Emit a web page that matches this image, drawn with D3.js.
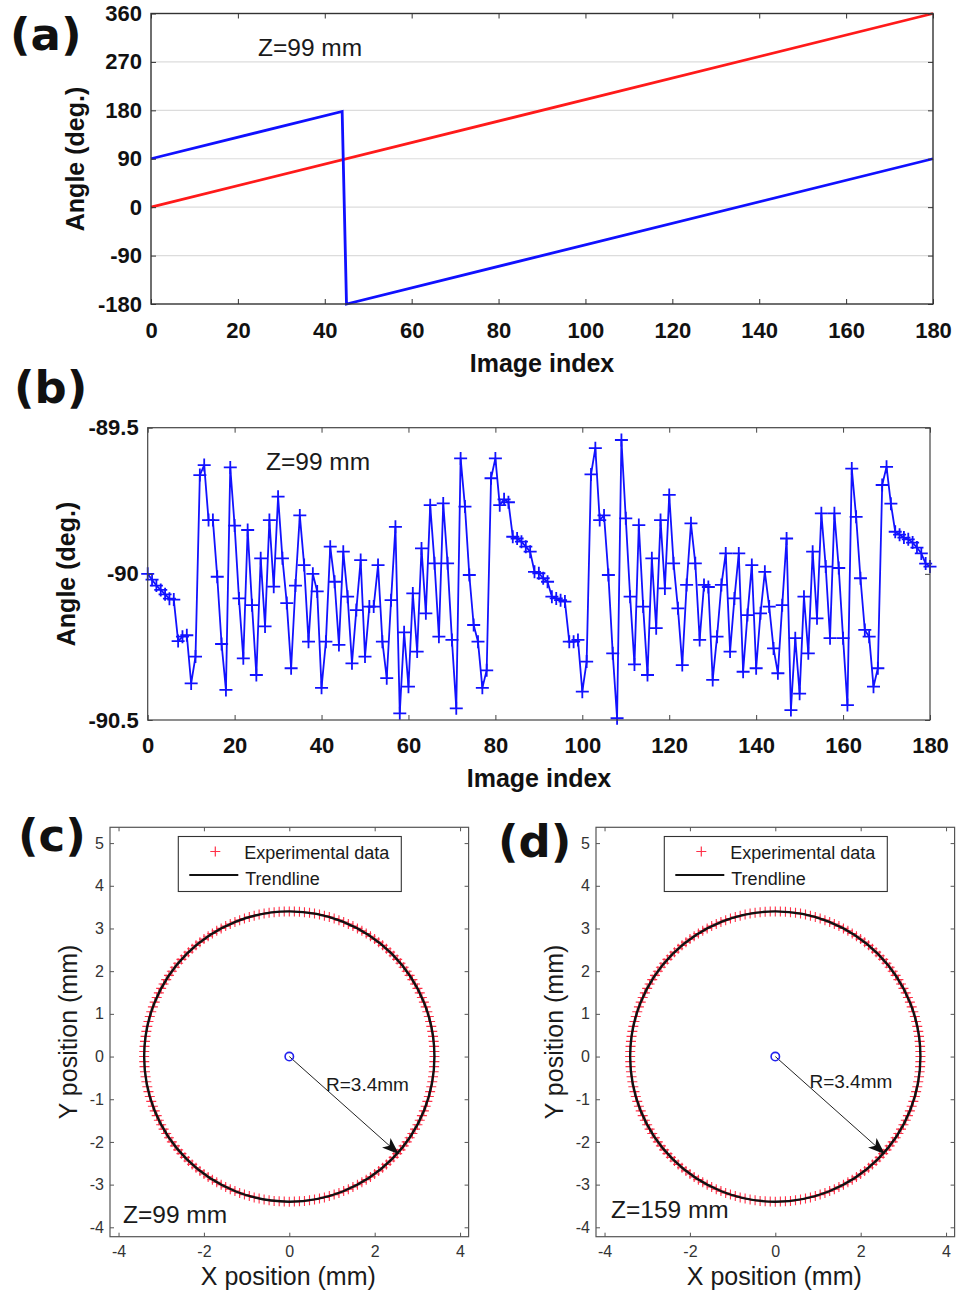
<!DOCTYPE html>
<html>
<head>
<meta charset="utf-8">
<script src="https://cdn.jsdelivr.net/npm/d3@7"></script>
<style>
  body { margin: 0; background: #fff; }
  svg { display: block; }
</style>
</head>
<body>
<svg id="fig" width="956" height="1293"></svg>
<script>
// ---------- data ----------
// (a) rotation angle vs. measured angle, as polyline vertices (image index, degrees)
const rotationAngle = [[0, 0], [180, 360]];
const measuredAngle = [[0, 90], [44, 178], [45, -180], [180, 90]];
const angleTicksA = [-180, -90, 0, 90, 180, 270, 360];
const indexTicks = [0, 20, 40, 60, 80, 100, 120, 140, 160, 180];

// (b) axis angle for each image index 0..180
const axisAngle = [
  -90.000, -90.020, -90.040, -90.055, -90.070, -90.085, -90.088, -90.230, -90.215, -90.210,
  -90.375, -90.283, -89.662, -89.628, -89.816, -89.816, -90.010, -90.240, -90.397, -89.636,
  -89.835, -90.084, -90.289, -89.850, -90.107, -90.346, -89.947, -90.180, -89.816, -90.044,
  -89.736, -89.947, -90.100, -90.323, -90.040, -89.800, -89.970, -90.232, -90.000, -90.060,
  -90.390, -90.232, -89.907, -90.027, -90.243, -89.924, -90.078, -90.306, -90.124, -89.953,
  -90.283, -90.112, -90.112, -89.970, -90.232, -90.357, -90.090, -89.839, -90.477, -90.200,
  -90.386, -90.067, -90.266, -89.913, -90.135, -89.765, -89.964, -90.215, -89.759, -89.964,
  -90.226, -90.460, -89.605, -89.770, -90.004, -90.175, -90.232, -90.390, -90.330, -89.673,
  -89.605, -89.765, -89.745, -89.755, -89.873, -89.879, -89.890, -89.907, -89.924, -89.993,
  -89.998, -90.015, -90.027, -90.078, -90.084, -90.090, -90.095, -90.232, -90.232, -90.226,
  -90.403, -90.300, -89.660, -89.570, -89.816, -89.800, -90.004, -90.272, -90.494, -89.542,
  -89.810, -90.078, -90.310, -89.833, -90.112, -90.346, -89.947, -90.186, -89.816, -90.050,
  -89.730, -89.964, -90.118, -90.312, -90.038, -89.827, -89.964, -90.226, -90.038, -90.045,
  -90.363, -90.215, -90.038, -89.930, -90.266, -90.084, -89.930, -90.335, -90.141, -89.970,
  -90.323, -90.135, -89.993, -90.112, -90.255, -90.340, -90.107, -89.879, -90.466, -90.220,
  -90.410, -90.078, -90.272, -89.924, -90.152, -89.793, -89.975, -90.220, -89.793, -89.980,
  -90.220, -90.449, -89.640, -89.805, -90.015, -90.192, -90.215, -90.386, -90.323, -89.696,
  -89.634, -89.760, -89.856, -89.866, -89.876, -89.882, -89.893, -89.910, -89.930, -89.965,
  -89.975
];
const angleTicksB = [-90.5, -90, -89.5];

// (c), (d) centre track: fitted radius, arrow tip, tick values, captions
const trendRadius = 3.4;
const imageCount = 180;              // images per full turn
const arrowTip = [2.55, -2.27];
const posTicksX = [-4, -2, 0, 2, 4];
const posTicksY = [-4, -3, -2, -1, 0, 1, 2, 3, 4, 5];
const trackPanels = [
  { tag: "(c)", z: "Z=99 mm",  left: 110, zText: [123, 1223], rText: [0.86, -0.80], lab: [18, 851] },
  { tag: "(d)", z: "Z=159 mm", left: 596, zText: [611, 1218], rText: [0.80, -0.73], lab: [498, 857] }
];

// ---------- helpers ----------
const svg = d3.select("#fig");
const SANS = "'Liberation Sans', Arial, sans-serif";
const fmt = d => String(d);

svg.append("defs").append("marker")
  .attr("id", "arrowHead").attr("viewBox", "0 0 16 12")
  .attr("refX", 15).attr("refY", 6)
  .attr("markerWidth", 17).attr("markerHeight", 13)
  .attr("markerUnits", "userSpaceOnUse").attr("orient", "auto")
  .append("path").attr("d", "M0,0L16,6L0,12L4,6Z").attr("fill", "#111");

function boxAxes(g, x, y, o) {
  const [xl, xr] = x.range();
  const [yb, yt] = y.range();
  const styleText = sel => sel.selectAll("text")
    .attr("font-family", SANS).attr("font-size", o.fs)
    .attr("font-weight", o.bold ? "bold" : "normal").attr("fill", o.textColor);
  const styleTicks = sel => {
    sel.select(".domain").remove();
    sel.selectAll(".tick line").attr("stroke", o.tickColor).attr("stroke-width", 1);
  };
  g.append("g").attr("transform", `translate(0,${yb})`)
    .call(d3.axisBottom(x).tickValues(o.xTicks).tickSize(-o.tick).tickPadding(o.xPad).tickFormat(fmt))
    .call(styleTicks).call(styleText);
  g.append("g").attr("transform", `translate(0,${yt})`)
    .call(d3.axisTop(x).tickValues(o.xTicks).tickSize(-o.tick).tickFormat(""))
    .call(styleTicks);
  g.append("g").attr("transform", `translate(${xl},0)`)
    .call(d3.axisLeft(y).tickValues(o.yTicks).tickSize(-o.tick).tickPadding(o.yPad).tickFormat(fmt))
    .call(styleTicks).call(styleText);
  g.append("g").attr("transform", `translate(${xr},0)`)
    .call(d3.axisRight(y).tickValues(o.yTicks).tickSize(-o.tick).tickFormat(""))
    .call(styleTicks);
  g.append("rect")
    .attr("x", xl).attr("y", yt).attr("width", xr - xl).attr("height", yb - yt)
    .attr("fill", "none").attr("stroke", o.frameColor).attr("stroke-width", o.frameWidth);
}

function panelTag(text, x, y) {
  svg.append("text").attr("x", x).attr("y", y).text(text)
    .attr("font-family", "'DejaVu Sans', sans-serif").attr("font-weight", "bold")
    .attr("font-size", 45).attr("fill", "#111");
}

function label(g, text, x, y, size, opts = {}) {
  const t = g.append("text").text(text)
    .attr("font-family", SANS).attr("font-size", size)
    .attr("font-weight", opts.bold ? "bold" : "normal")
    .attr("fill", opts.fill || "#1a1a1a")
    .attr("text-anchor", opts.anchor || "start");
  if (opts.rotate) t.attr("transform", `translate(${x},${y}) rotate(-90)`);
  else t.attr("x", x).attr("y", y);
  return t;
}

// ---------- (a) ----------
{
  const g = svg.append("g");
  const x = d3.scaleLinear().domain([0, 180]).range([151, 933]);
  const y = d3.scaleLinear().domain([-180, 360]).range([304, 13.5]);

  g.append("g").selectAll("line").data(angleTicksA.slice(1, -1)).join("line")
    .attr("x1", x.range()[0]).attr("x2", x.range()[1])
    .attr("y1", d => y(d)).attr("y2", d => y(d))
    .attr("stroke", "#dcdcdc").attr("stroke-width", 1.2);

  const line = d3.line().x(d => x(d[0])).y(d => y(d[1]));
  g.append("path").datum(rotationAngle).attr("d", line)
    .attr("fill", "none").attr("stroke", "#ff1a1a").attr("stroke-width", 2.8);
  g.append("path").datum(measuredAngle).attr("d", line)
    .attr("fill", "none").attr("stroke", "#1010ff").attr("stroke-width", 2.8);

  boxAxes(g, x, y, { xTicks: indexTicks, yTicks: angleTicksA, tick: 5, xPad: 18, yPad: 9,
    fs: 22, bold: true, textColor: "#111", tickColor: "#333", frameColor: "#333", frameWidth: 1.4 });

  label(g, "Z=99 mm", 258, 56, 24.5);
  label(g, "Angle (deg.)", 84, 159, 25, { bold: true, anchor: "middle", rotate: true, fill: "#111" });
  label(g, "Image index", 542, 372, 25, { bold: true, anchor: "middle", fill: "#111" });
  panelTag("(a)", 10, 50);
}

// ---------- (b) ----------
{
  const g = svg.append("g");
  const x = d3.scaleLinear().domain([0, 180]).range([147.7, 930]);
  const y = d3.scaleLinear().domain([-90.5, -89.5]).range([720, 427.7]);

  g.append("path").datum(axisAngle)
    .attr("d", d3.line().x((d, i) => x(i)).y(d => y(d)))
    .attr("fill", "none").attr("stroke", "#1212ff").attr("stroke-width", 1.8)
    .attr("stroke-linejoin", "round");
  g.append("g").selectAll("path").data(axisAngle).join("path")
    .attr("transform", (d, i) => `translate(${x(i)},${y(d)})`)
    .attr("d", "M-6.5,0H6.5M0,-6.5V6.5")
    .attr("fill", "none").attr("stroke", "#1212ff").attr("stroke-width", 1.8);

  boxAxes(g, x, y, { xTicks: indexTicks, yTicks: angleTicksB, tick: 5, xPad: 17, yPad: 9,
    fs: 22, bold: true, textColor: "#111", tickColor: "#444", frameColor: "#444", frameWidth: 1.2 });

  label(g, "Z=99 mm", 266, 470, 24.5);
  label(g, "Angle (deg.)", 75, 574, 25, { bold: true, anchor: "middle", rotate: true, fill: "#111" });
  label(g, "Image index", 539, 787, 25, { bold: true, anchor: "middle", fill: "#111" });
  panelTag("(b)", 14, 403);
}

// ---------- (c), (d) ----------
trackPanels.forEach(p => {
  const g = svg.append("g");
  const x = d3.scaleLinear().domain([-4.2, 4.2]).range([p.left, p.left + 358.6]);
  const y = d3.scaleLinear().domain([-4.22, 5.37]).range([1236.7, 827.3]);

  // each image position sits on the fitted circle at that image's rotation angle
  const rotation = d3.scaleLinear().domain(rotationAngle.map(d => d[0])).range(rotationAngle.map(d => d[1]));
  const samples = d3.range(imageCount).map(i => {
    const a = rotation(i) * Math.PI / 180;
    return [trendRadius * Math.cos(a), trendRadius * Math.sin(a)];
  });

  g.append("g").selectAll("path").data(samples).join("path")
    .attr("transform", d => `translate(${x(d[0])},${y(d[1])})`)
    .attr("d", "M-5,0H5M0,-5V5")
    .attr("fill", "none").attr("stroke", "#ff3048").attr("stroke-width", 1.1);

  g.append("circle")
    .attr("cx", x(0)).attr("cy", y(0)).attr("r", x(trendRadius) - x(0))
    .attr("fill", "none").attr("stroke", "#111").attr("stroke-width", 2.4);

  g.append("line")
    .attr("x1", x(0)).attr("y1", y(0)).attr("x2", x(arrowTip[0])).attr("y2", y(arrowTip[1]))
    .attr("stroke", "#222").attr("stroke-width", 1).attr("marker-end", "url(#arrowHead)");

  g.append("circle").attr("cx", x(0)).attr("cy", y(0)).attr("r", 4.2)
    .attr("fill", "none").attr("stroke", "#2222ee").attr("stroke-width", 1.6);

  boxAxes(g, x, y, { xTicks: posTicksX, yTicks: posTicksY, tick: 4, xPad: 9, yPad: 6,
    fs: 16, bold: false, textColor: "#333", tickColor: "#555", frameColor: "#555", frameWidth: 1.2 });

  // legend
  const lx = p.left + 68.3, ly = 836.5;
  g.append("rect").attr("x", lx).attr("y", ly).attr("width", 223).attr("height", 55)
    .attr("fill", "#fff").attr("stroke", "#333").attr("stroke-width", 1.1);
  g.append("path").attr("transform", `translate(${lx + 37},${ly + 15})`)
    .attr("d", "M-5,0H5M0,-5V5").attr("stroke", "#ff3048").attr("stroke-width", 1.2);
  g.append("line").attr("x1", lx + 11).attr("x2", lx + 60).attr("y1", ly + 38.5).attr("y2", ly + 38.5)
    .attr("stroke", "#111").attr("stroke-width", 2.2);
  label(g, "Experimental data", lx + 66, ly + 22, 18);
  label(g, "Trendline", lx + 67, ly + 48, 18);

  label(g, p.z, p.zText[0], p.zText[1], 24.5);
  label(g, "R=3.4mm", x(p.rText[0]), y(p.rText[1]), 19);
  label(g, "Y position (mm)", p.left - 33, 1032, 25, { anchor: "middle", rotate: true });
  label(g, "X position (mm)", x(0) - 1, 1285, 25, { anchor: "middle" });
  panelTag(p.tag, p.lab[0], p.lab[1]);
});
</script>
</body>
</html>
